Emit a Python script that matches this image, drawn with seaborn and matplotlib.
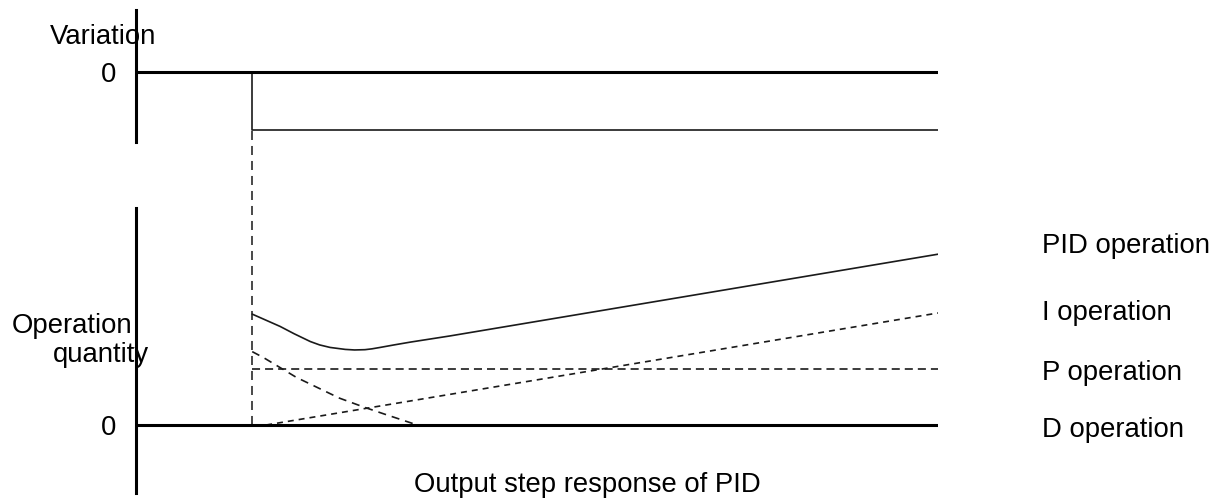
import matplotlib
matplotlib.use('Agg')
import matplotlib.pyplot as plt
import seaborn as sns

# time axis (step applied at t = 0)
t_start, t_end = -1.0, 5.9

# upper plot: step change of the variation
var_t = [0, 0, 5.9]
var_v = [0, -1, -1]

# lower plot: operation quantity
pid_t = [0, 0.12, 0.24, 0.36, 0.50, 0.58, 0.67, 0.80, 0.88, 0.97, 1.03,
         1.10, 1.22, 1.36, 1.70, 5.9]
pid_v = [1.98, 1.87, 1.76, 1.63, 1.49, 1.43, 1.385, 1.35, 1.34, 1.345, 1.36,
         1.385, 1.43, 1.48, 1.59, 3.05]
p_t = [0, 5.9]
p_v = [1.0, 1.0]
i_t = [0.12, 5.9]
i_v = [0.0, 2.0]
d_t = [0, 0.10, 0.38, 0.75, 0.96, 1.13, 1.42]
d_v = [1.31, 1.20, 0.85, 0.48, 0.32, 0.20, 0.0]

right_labels = ['PID operation', 'I operation', 'P operation', 'D operation']
right_label_y = [253, 320, 380, 437]  # baselines, pixels from top

sns.set_style('white')
plt.rcParams['font.family'] = ['Liberation Sans', 'DejaVu Sans']
plt.rcParams['text.color'] = 'black'
plt.rcParams['ytick.color'] = 'black'
plt.rcParams['ytick.labelcolor'] = 'black'
plt.rcParams['lines.scale_dashes'] = False

W, H = 1229, 499
fig = plt.figure(figsize=(W / 100, H / 100), dpi=100)


def fpos(x, y):
    return x / W, 1 - y / H


ax_top = fig.add_axes([136 / W, (H - 142) / H, 802 / W, 132 / H])
ax_bot = fig.add_axes([136 / W, (H - 493) / H, 802 / W, 285 / H])

thick = 2.2
thin = 1.2
fs = 19.8
ink = '#1a1a1a'

for ax in (ax_top, ax_bot):
    ax.set_xlim(t_start, t_end)
    for side in ('top', 'right', 'bottom'):
        ax.spines[side].set_visible(False)
    ax.spines['left'].set_linewidth(thick)
    ax.spines['left'].set_color('black')
    ax.axhline(0, color='black', lw=thick, zorder=3)
    ax.set_xticks([])
    ax.set_yticks([0])
    ax.set_yticklabels(['0'])
    ax.tick_params(axis='y', length=0, pad=14, labelsize=fs,
                   labelcolor='black')
    ax.set_xlabel('')
    ax.set_ylabel('')
    ax.patch.set_alpha(0)

ax_top.set_ylim(-70 / 58, 62 / 58)
ax_bot.set_ylim(-68 / 56, 217 / 56)

# step of the variation
sns.lineplot(x=var_t, y=var_v, ax=ax_top, color=ink, lw=thin,
             estimator=None, sort=False)

# dashed marker of the step instant, running from the step down to zero
step_disp = ax_top.transData.transform((0, var_v[-1]))
step_in_bot = ax_bot.transData.inverted().transform(step_disp)[1]
sns.lineplot(x=[0, 0], y=[0, step_in_bot], ax=ax_bot, color='#2a2a2a',
             lw=thin, linestyle=(0, (6.5, 4.3)), estimator=None, sort=False,
             clip_on=False)

sns.lineplot(x=pid_t, y=pid_v, ax=ax_bot, color=ink, lw=thin,
             estimator=None, sort=False)
sns.lineplot(x=p_t, y=p_v, ax=ax_bot, color=ink, lw=thin,
             linestyle=(0, (5.8, 3.6)), estimator=None, sort=False)
sns.lineplot(x=i_t, y=i_v, ax=ax_bot, color=ink, lw=thin,
             linestyle=(0, (4.3, 3.6)), estimator=None, sort=False)
sns.lineplot(x=d_t, y=d_v, ax=ax_bot, color=ink, lw=thin,
             linestyle=(0, (5.8, 4.3)), estimator=None, sort=False)

# texts
fig.text(*fpos(50, 44), 'Variation', fontsize=fs, ha='left', va='baseline')
fig.text(*fpos(12, 333), 'Operation', fontsize=fs, ha='left', va='baseline')
fig.text(*fpos(53, 362), 'quantity', fontsize=fs, ha='left', va='baseline')
fig.text(*fpos(587, 492), 'Output step response of PID', fontsize=fs,
         ha='center', va='baseline')
for lab, y in zip(right_labels, right_label_y):
    fig.text(*fpos(1042, y), lab, fontsize=fs, ha='left', va='baseline')

fig.savefig('out.png', dpi=100)
plt.close(fig)
